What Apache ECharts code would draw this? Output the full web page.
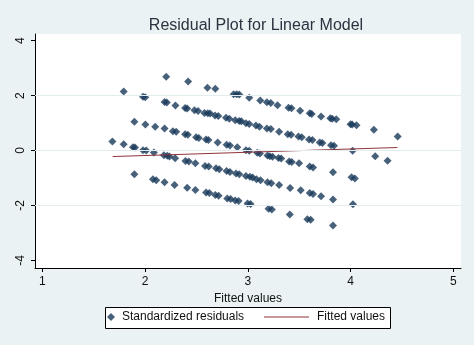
<!DOCTYPE html>
<html>
<head>
<meta charset="utf-8">
<script src="https://cdn.jsdelivr.net/npm/echarts@6/dist/echarts.min.js"></script>
<style>
  html, body { margin: 0; padding: 0; background: #eaf2f3; }
  #chart { width: 474px; height: 345px; }
</style>
</head>
<body>
<div id="chart"></div>
<script>
// Standardized residuals against fitted values, one array per residual band
const band1 = [[2.206,2.69],[2.419,2.51],[2.607,2.29],[2.684,2.25],[2.862,2.05],[2.891,2.05],[2.917,2.04],
  [3.014,1.92],[3.121,1.82],[3.186,1.76],[3.224,1.73],[3.289,1.65],[3.396,1.56],[3.425,1.54],[3.509,1.45],
  [3.603,1.36],[3.622,1.33],[3.713,1.24],[3.803,1.18],[3.822,1.16],[3.861,1.14],[4.0,0.96],[4.016,0.95],
  [4.058,0.92],[4.227,0.76],[4.459,0.51]];
const band2 = [[1.792,2.15],[1.98,1.96],[2.002,1.94],[2.19,1.77],[2.212,1.75],[2.296,1.64],[2.39,1.55],[2.41,1.53],
  [2.481,1.47],[2.516,1.44],[2.578,1.37],[2.61,1.36],[2.633,1.35],[2.681,1.28],[2.713,1.26],[2.788,1.19],
  [2.82,1.16],[2.878,1.1],[2.917,1.08],[2.937,1.07],[2.982,0.99],[3.014,0.97],[3.079,0.91],[3.114,0.87],
  [3.186,0.8],[3.224,0.78],[3.305,0.68],[3.389,0.59],[3.422,0.57],[3.493,0.51],[3.525,0.48],[3.596,0.4],
  [3.629,0.38],[3.7,0.29],[3.726,0.27],[3.81,0.19],[3.839,0.17],[4.02,-0.01],[4.24,-0.21],[4.36,-0.37]];
const band3 = [[1.896,1.05],[2.003,0.95],[2.099,0.87],[2.19,0.8],[2.271,0.7],[2.303,0.68],[2.39,0.59],[2.416,0.57],
  [2.497,0.48],[2.523,0.46],[2.594,0.4],[2.617,0.38],[2.707,0.29],[2.794,0.21],[2.826,0.18],[2.898,0.12],
  [2.982,0.01],[3.014,-0.01],[3.092,-0.08],[3.118,-0.11],[3.192,-0.18],[3.215,-0.21],[3.241,-0.23],
  [3.299,-0.27],[3.325,-0.29],[3.402,-0.4],[3.428,-0.42],[3.499,-0.46],[3.603,-0.58],[3.635,-0.62],
  [3.829,-0.79],[4.01,-0.97],[4.042,-1.02]];
const band4 = [[1.682,0.33],[1.792,0.23],[1.883,0.12],[1.902,0.11],[1.98,0.01],[2.012,0.0],[2.086,-0.07],
  [2.183,-0.17],[2.216,-0.19],[2.238,-0.22],[2.293,-0.28],[2.393,-0.38],[2.426,-0.4],[2.49,-0.46],
  [2.584,-0.56],[2.62,-0.58],[2.691,-0.65],[2.723,-0.68],[2.794,-0.75],[2.826,-0.78],[2.885,-0.84],
  [2.917,-0.86],[2.982,-0.93],[3.021,-0.96],[3.047,-0.98],[3.085,-1.05],[3.124,-1.08],[3.192,-1.16],
  [3.228,-1.19],[3.305,-1.26],[3.412,-1.37],[3.515,-1.45],[3.603,-1.55],[3.635,-1.58],[3.713,-1.67],
  [3.829,-1.78],[4.023,-1.96]];
const band5 = [[1.896,-0.86],[2.077,-1.05],[2.109,-1.08],[2.19,-1.16],[2.287,-1.26],[2.41,-1.36],[2.49,-1.44],
  [2.594,-1.53],[2.626,-1.55],[2.684,-1.62],[2.716,-1.65],[2.8,-1.75],[2.833,-1.77],[2.878,-1.82],
  [2.911,-1.84],[2.998,-1.93],[3.027,-1.95],[3.202,-2.12],[3.234,-2.15],[3.409,-2.33],[3.58,-2.5],
  [3.612,-2.52],[3.829,-2.73]];

// Fitted line end points
const fittedX = [1.684, 4.455];
const fittedY = [-0.22, 0.11];

// Axis ticks and grid lines
const xTicks = [1, 2, 3, 4, 5];
const yTicks = [-4, -2, 0, 2, 4];
const yGrid = [-2, 0, 2];

const residuals = [].concat(band1, band2, band3, band4, band5);
const fitted = fittedX.map((x, i) => [x, fittedY[i]]);

const FONT = 'Liberation Sans, Arial, sans-serif';
const MARKER = '#193a5a';
const MAROON = '#90353b';
const chart = echarts.init(document.getElementById('chart'), null, { renderer: 'canvas' });

chart.setOption({
  backgroundColor: '#eaf2f3',
  animation: false,
  title: {
    text: 'Residual Plot for Linear Model',
    left: 251, top: 13, textAlign: 'center',
    textStyle: { fontFamily: FONT, fontSize: 16, fontWeight: 'normal', color: '#2a3340' }
  },
  grid: {
    left: 35, right: 13, top: 34, bottom: 77,
    show: true, backgroundColor: '#ffffff', borderWidth: 0
  },
  xAxis: {
    type: 'value', min: 0.929, max: 5.075,
    name: 'Fitted values', nameLocation: 'middle', nameGap: 18,
    nameTextStyle: { fontFamily: FONT, fontSize: 12, color: '#111' },
    axisLine: { show: true, onZero: false, lineStyle: { color: '#000', width: 1 } },
    axisTick: { show: true, customValues: xTicks, length: 4, lineStyle: { color: '#000' } },
    axisLabel: { customValues: xTicks, margin: 8, fontFamily: FONT, fontSize: 12, color: '#111' },
    splitLine: { show: false }
  },
  yAxis: {
    type: 'value', min: -4.28, max: 4.245,
    axisLine: { show: true, onZero: false, lineStyle: { color: '#000', width: 1 } },
    axisTick: { show: true, customValues: yTicks, length: 4, lineStyle: { color: '#000' } },
    axisLabel: { customValues: yTicks, rotate: 90, margin: 8, fontFamily: FONT, fontSize: 12, color: '#111' },
    splitLine: { show: false }
  },
  legend: [
    {
      data: [{ name: 'Standardized residuals', icon: 'diamond' }],
      left: 107, top: 311, itemWidth: 8, itemHeight: 8, padding: 0,
      textStyle: { fontFamily: FONT, fontSize: 12, color: '#111', padding: [0, 0, 0, 2] }
    },
    {
      data: [{ name: 'Fitted values', icon: 'path://M0,0L45,0L45,1L0,1Z', itemStyle: { color: MAROON } }],
      left: 264, top: 311, itemWidth: 45, itemHeight: 8, padding: 0,
      textStyle: { fontFamily: FONT, fontSize: 12, color: '#111', padding: [0, 0, 0, 3] }
    }
  ],
  graphic: [{
    type: 'rect', z: -1, silent: true,
    shape: { x: 105.5, y: 307.5, width: 285, height: 21 },
    style: { fill: '#ffffff', stroke: '#000000', lineWidth: 1 }
  }],
  series: [
    {
      name: 'gridlines', type: 'line', data: [], z: 1, silent: true,
      markLine: {
        silent: true, symbol: 'none', label: { show: false },
        lineStyle: { color: '#e3ecee', width: 1, type: 'solid' },
        data: yGrid.map(v => ({ yAxis: v }))
      }
    },
    {
      name: 'Standardized residuals', type: 'scatter', z: 3,
      symbol: 'diamond', symbolSize: 8,
      itemStyle: { color: MARKER },
      data: residuals
    },
    {
      name: 'Fitted values', type: 'line', z: 4,
      symbol: 'none', showSymbol: false, lineStyle: { color: MAROON, width: 1 },
      itemStyle: { color: MAROON },
      data: fitted
    }
  ]
});
</script>
</body>
</html>
